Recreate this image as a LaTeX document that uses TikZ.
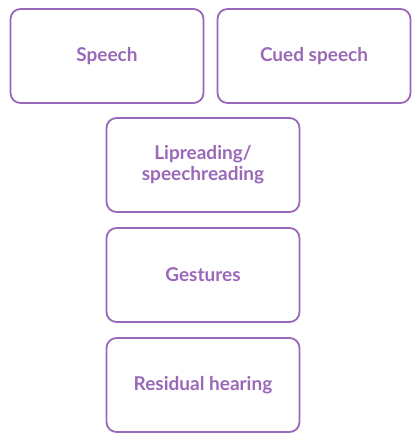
\documentclass[tikz,border=0pt]{standalone}
\usepackage{fontspec}
\setmainfont{Lato}
\definecolor{lilac}{HTML}{9A68B8}
\begin{document}
\begin{tikzpicture}[x=1pt,y=1pt,
  card/.style={draw=lilac, line width=1.8pt, rounded corners=10pt, minimum width=193pt, minimum height=94pt, align=center, text=lilac, font=\fontsize{19}{21}\selectfont\bfseries}]
\useasboundingbox (0,0) rectangle (414,439);
\node[card] (speech) at (107,383) {Speech};
\node[card] (cued) at (314,383) {Cued speech};
\node[card] (lip) at (203,274) {Lipreading/\\speechreading};
\node[card] (gest) at (203,164) {Gestures};
\node[card] (resid) at (203,54) {Residual hearing};
\end{tikzpicture}
\end{document}
